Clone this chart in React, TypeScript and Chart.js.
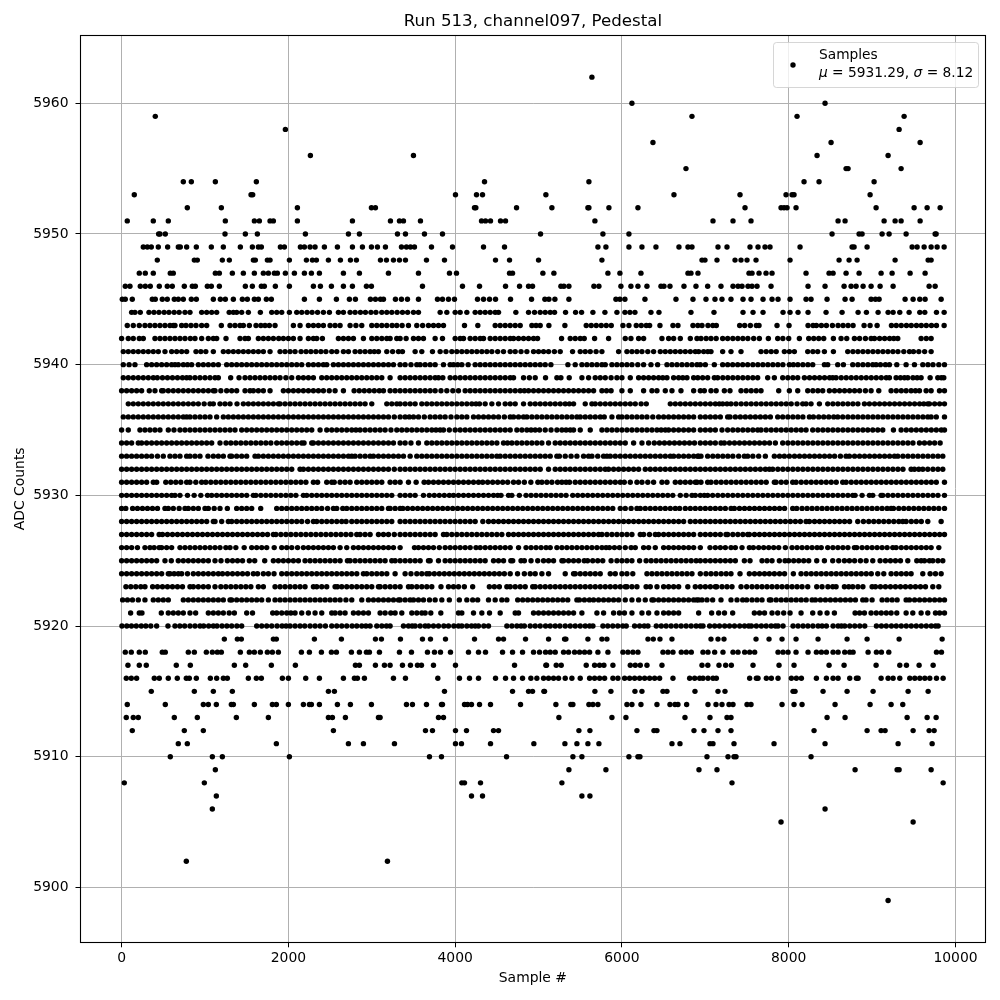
import React, { useEffect, useRef } from "react";
import { Chart, registerables } from "chart.js";

Chart.register(...registerables);

const xTicks = [0, 2000, 4000, 6000, 8000, 10000];
const yTicks = [5900, 5910, 5920, 5930, 5940, 5950, 5960];

const s5962 = [5640];
const s5960 = [6120, 8436];
const s5959 = [404, 6840, 8100, 9384];
const s5958 = [1964, 9324];
const s5957 = [6372, 8508, 9576];
const s5956 = [2264, 3500, 8340, 9192];
const s5955 = [6768, 8688, 8712, 9348];
const s5954 = [740, 836, 1124, 1616, 4352, 5604, 8184, 8364, 9024];
const s5953 = [152, 1552, 1572, 4004, 4256, 4328, 5088, 6624, 7416, 7968, 8040, 8064, 8976];
const s5952 = [788, 1196, 2108, 2996, 3044, 4232, 4248, 4736, 5160, 5592, 5604, 5844, 6192, 7476, 7908, 7944, 7980, 8088, 9048, 9504, 9660, 9816];
const s5951 = [68, 380, 560, 1244, 1592, 1652, 1780, 1820, 2108, 2768, 3224, 3332, 3380, 3584, 4316, 4364, 4424, 4544, 4604, 5676, 7092, 7332, 7548, 8592, 8676, 9144, 9276, 9348, 9576];
const s5950 = [444, 460, 524, 1240, 1484, 1628, 2204, 2720, 2852, 3308, 3404, 3632, 3848, 5024, 5772, 6084, 8520, 8844, 8880, 9120, 9204, 9408, 9756, 9768];
const s5949 = [260, 308, 356, 440, 552, 680, 704, 780, 896, 1076, 1220, 1424, 1568, 1640, 1676, 1904, 1952, 2144, 2192, 2260, 2320, 2432, 2588, 2768, 2888, 2996, 3068, 3164, 3356, 3416, 3464, 3512, 3716, 3968, 4340, 4592, 5712, 5808, 6084, 6240, 6408, 6684, 6792, 6840, 7152, 7260, 7536, 7632, 7716, 7776, 8136, 8760, 8784, 8940, 9480, 9540, 9624, 9708, 9780, 9864];
const s5948 = [428, 872, 908, 1208, 1292, 1580, 1604, 1748, 1780, 2012, 2216, 2288, 2336, 2480, 2624, 2744, 2816, 3104, 3176, 3260, 3332, 3404, 3656, 3872, 4484, 4652, 5000, 5760, 6960, 6996, 7140, 7356, 7428, 7500, 7608, 8016, 8604, 8724, 8820, 9276, 9672, 9708];
const s5947 = [212, 284, 380, 584, 620, 1124, 1172, 1328, 1460, 1592, 1700, 1760, 1832, 1868, 1964, 2072, 2192, 2276, 2372, 2660, 2852, 3200, 3560, 3932, 4016, 4652, 4688, 5052, 5184, 5832, 5976, 6228, 6792, 6828, 6912, 7524, 7560, 7644, 7728, 7800, 8208, 8484, 8532, 8688, 8844, 9108, 9240, 9456, 9636];
const s5946 = [44, 100, 224, 284, 344, 452, 548, 608, 752, 848, 884, 1028, 1076, 1172, 1484, 1568, 1676, 1712, 1844, 2012, 2300, 2384, 2516, 2660, 2768, 2936, 2996, 3608, 4088, 4292, 4604, 4772, 4880, 4928, 5268, 5304, 5364, 5664, 5724, 5988, 6108, 6192, 6300, 6468, 6504, 6576, 6744, 6888, 7028, 7188, 7332, 7392, 7440, 7512, 7560, 7620, 7788, 8232, 8436, 8664, 8748, 8808, 8892, 8988, 9096, 9252, 9684, 9756];
const s5945 = [8, 44, 128, 368, 404, 488, 548, 632, 680, 740, 836, 896, 1100, 1184, 1244, 1340, 1448, 1508, 1592, 1640, 1736, 1796, 2192, 2372, 2576, 2732, 2804, 2984, 3044, 3104, 3140, 3284, 3356, 3428, 3560, 3788, 3848, 3920, 3992, 4268, 4340, 4412, 4484, 4664, 4916, 5076, 5124, 5196, 5364, 5928, 5976, 6036, 6276, 6648, 6852, 7008, 7116, 7200, 7308, 7452, 7548, 7692, 7800, 7872, 8016, 8208, 8268, 8460, 8676, 8760, 8988, 9040, 9084, 9396, 9492, 9572, 9636, 9828];
const s5944 = [120, 160, 224, 328, 388, 448, 510, 568, 630, 690, 760, 820, 960, 1020, 1080, 1140, 1290, 1340, 1380, 1440, 1520, 1664, 1800, 1860, 1920, 2012, 2100, 2160, 2224, 2284, 2350, 2420, 2492, 2600, 2660, 2740, 2800, 2864, 2924, 2990, 3050, 3120, 3180, 3240, 3304, 3368, 3430, 3500, 3560, 3820, 3900, 4000, 4060, 4140, 4240, 4300, 4360, 4420, 4480, 4520, 4728, 4880, 4952, 5020, 5080, 5140, 5192, 5324, 5444, 5516, 5652, 5796, 5940, 6036, 6096, 6156, 6348, 6444, 6828, 7104, 7452, 7572, 7692, 7932, 8016, 8112, 8232, 8448, 8640, 8832, 8932, 9072, 9192, 9252, 9332, 9444, 9572, 9632, 9772, 9864];
const s5943 = [68, 140, 212, 280, 340, 400, 460, 520, 580, 620, 640, 720, 772, 832, 892, 960, 1020, 1196, 1300, 1360, 1420, 1460, 1532, 1612, 1670, 1720, 1772, 1840, 2060, 2140, 2240, 2300, 2360, 2420, 2500, 2560, 2620, 2740, 2810, 2880, 3000, 3060, 3120, 3180, 3244, 3300, 3364, 3440, 3540, 3610, 3680, 3740, 3800, 3860, 4112, 4272, 4480, 4540, 4600, 4660, 4720, 4780, 4920, 4970, 5020, 5124, 5316, 5572, 5632, 5692, 5752, 5812, 5872, 6012, 6084, 6172, 6232, 6292, 6332, 6456, 6612, 6672, 6852, 6910, 6960, 7032, 7090, 7132, 7412, 7472, 7540, 7612, 7644, 7860, 8004, 8232, 8292, 8332, 8392, 8452, 8524, 8592, 8652, 8712, 8772, 8904, 8976, 9060, 9232, 9290, 9350, 9412, 9470, 9532, 9590, 9650, 9712, 9772, 9864];
const s5942 = [0, 80, 140, 212, 260, 400, 460, 520, 580, 640, 700, 760, 824, 880, 960, 1040, 1100, 1140, 1252, 1420, 1480, 1520, 1640, 1700, 1760, 1820, 1884, 1940, 2000, 2060, 2140, 2240, 2300, 2340, 2408, 2600, 2660, 2720, 2780, 2900, 3000, 3060, 3120, 3180, 3220, 3300, 3340, 3412, 3500, 3560, 3620, 3760, 3848, 4000, 4060, 4100, 4180, 4240, 4300, 4340, 4420, 4480, 4540, 4600, 4660, 4700, 4760, 4820, 4880, 4940, 4988, 5276, 5380, 5440, 5500, 5548, 5672, 5840, 6040, 6108, 6200, 6260, 6480, 6560, 6620, 6700, 6820, 6900, 6948, 7010, 7068, 7130, 7208, 7268, 7330, 7390, 7450, 7510, 7580, 7648, 7756, 7868, 7930, 8000, 8128, 8240, 8300, 8360, 8420, 8536, 8628, 8696, 8788, 8850, 8920, 8988, 9028, 9090, 9150, 9210, 9260, 9308, 9588, 9650, 9708];
const s5941 = [20, 80, 140, 200, 260, 320, 380, 440, 520, 600, 660, 720, 780, 892, 950, 1010, 1100, 1220, 1280, 1340, 1400, 1460, 1520, 1580, 1640, 1700, 1780, 1900, 1960, 2020, 2080, 2152, 2212, 2270, 2330, 2390, 2450, 2520, 2580, 2660, 2720, 2800, 2860, 2920, 2980, 3030, 3080, 3180, 3250, 3320, 3368, 3520, 3600, 3728, 3820, 3890, 3960, 4020, 4080, 4140, 4200, 4260, 4320, 4380, 4440, 4510, 4580, 4660, 4720, 4790, 4860, 4940, 5000, 5060, 5120, 5190, 5260, 5408, 5500, 5560, 5620, 5690, 5760, 5960, 6060, 6120, 6180, 6240, 6310, 6380, 6460, 6520, 6580, 6640, 6700, 6760, 6820, 6880, 6920, 6980, 7030, 7068, 7208, 7308, 7428, 7668, 7730, 7790, 7850, 7948, 8008, 8068, 8228, 8290, 8348, 8428, 8536, 8708, 8770, 8830, 8890, 8950, 9010, 9070, 9130, 9190, 9250, 9310, 9380, 9448, 9496, 9560, 9630, 9708];
const s5940 = [20, 90, 160, 300, 360, 420, 480, 540, 600, 640, 680, 740, 790, 840, 920, 980, 1040, 1100, 1160, 1260, 1320, 1380, 1440, 1500, 1560, 1620, 1680, 1740, 1800, 1860, 1920, 1980, 2040, 2100, 2160, 2240, 2300, 2360, 2420, 2460, 2540, 2600, 2660, 2720, 2780, 2840, 2900, 2960, 3020, 3080, 3140, 3200, 3260, 3340, 3400, 3470, 3540, 3580, 3640, 3700, 3760, 3860, 3940, 3980, 4030, 4080, 4156, 4240, 4300, 4360, 4420, 4480, 4540, 4600, 4660, 4720, 4780, 4840, 4900, 4960, 5020, 5080, 5148, 5352, 5440, 5520, 5580, 5640, 5700, 5760, 5800, 5880, 5940, 6000, 6060, 6120, 6190, 6260, 6348, 6428, 6540, 6600, 6660, 6720, 6780, 6840, 6900, 6940, 7000, 7108, 7208, 7268, 7328, 7388, 7448, 7508, 7570, 7630, 7690, 7750, 7810, 7870, 7930, 8008, 8056, 8110, 8170, 8230, 8288, 8428, 8468, 8588, 8656, 8768, 8830, 8890, 8950, 9008, 9048, 9100, 9160, 9208, 9296, 9408, 9508, 9608, 9670, 9730, 9800, 9868];
const s5939 = [20, 80, 140, 200, 260, 320, 380, 428, 490, 550, 610, 670, 730, 780, 820, 880, 940, 1000, 1060, 1120, 1160, 1308, 1408, 1480, 1540, 1600, 1660, 1720, 1780, 1840, 1900, 1970, 2040, 2120, 2180, 2240, 2300, 2400, 2460, 2520, 2580, 2640, 2700, 2760, 2820, 2880, 2940, 3000, 3060, 3120, 3220, 3340, 3400, 3460, 3520, 3580, 3640, 3700, 3760, 3800, 3852, 3940, 4000, 4060, 4120, 4180, 4240, 4300, 4360, 4420, 4480, 4540, 4600, 4660, 4700, 4820, 4890, 4960, 5084, 5220, 5268, 5368, 5520, 5600, 5680, 5740, 5800, 5870, 5940, 6000, 6100, 6200, 6260, 6320, 6380, 6440, 6490, 6540, 6620, 6680, 6730, 6780, 6860, 6910, 6968, 7028, 7108, 7148, 7210, 7270, 7330, 7390, 7450, 7510, 7570, 7628, 7748, 7828, 7928, 7990, 8050, 8108, 8188, 8250, 8310, 8370, 8430, 8490, 8528, 8568, 8630, 8690, 8750, 8810, 8870, 8930, 8990, 9050, 9110, 9170, 9208, 9288, 9340, 9388, 9428, 9490, 9540, 9588, 9696, 9788, 9830, 9860];
const s5938 = [0, 60, 120, 180, 240, 332, 400, 480, 500, 560, 620, 680, 740, 800, 860, 920, 980, 1040, 1100, 1120, 1190, 1260, 1320, 1380, 1480, 1540, 1580, 1640, 1700, 1780, 1940, 2000, 2060, 2120, 2180, 2240, 2300, 2360, 2420, 2490, 2560, 2660, 2788, 2850, 2910, 2970, 3030, 3090, 3140, 3220, 3280, 3340, 3400, 3460, 3520, 3580, 3640, 3700, 3760, 3830, 3900, 3972, 4040, 4120, 4180, 4240, 4300, 4360, 4420, 4480, 4540, 4600, 4660, 4720, 4780, 4830, 4880, 4940, 5000, 5060, 5120, 5180, 5240, 5300, 5360, 5420, 5480, 5540, 5600, 5660, 5760, 5815, 5870, 6000, 6100, 6260, 6360, 6420, 6520, 6600, 6708, 6860, 6940, 6988, 7068, 7130, 7228, 7296, 7428, 7490, 7550, 7610, 7668, 7880, 8008, 8108, 8228, 8290, 8350, 8408, 8488, 8550, 8610, 8670, 8730, 8790, 8850, 8920, 8988, 9080, 9228, 9290, 9350, 9408, 9468, 9520, 9568, 9648, 9708, 9808, 9868];
const s5937 = [80, 140, 200, 260, 320, 380, 440, 500, 560, 620, 680, 740, 800, 860, 920, 990, 1060, 1100, 1180, 1240, 1300, 1384, 1460, 1520, 1580, 1640, 1700, 1760, 1820, 1880, 1900, 1960, 2020, 2080, 2140, 2200, 2260, 2320, 2380, 2440, 2500, 2560, 2620, 2680, 2740, 2800, 2860, 2920, 3000, 3180, 3240, 3300, 3340, 3400, 3460, 3520, 3600, 3660, 3720, 3780, 3840, 3900, 3960, 4020, 4080, 4140, 4200, 4250, 4292, 4360, 4440, 4520, 4600, 4660, 4720, 4820, 4900, 4960, 5020, 5080, 5140, 5200, 5260, 5320, 5370, 5420, 5560, 5640, 5680, 5740, 5800, 5860, 5920, 5980, 6040, 6100, 6160, 6230, 6292, 6580, 6640, 6700, 6760, 6820, 6880, 6940, 7000, 7060, 7120, 7168, 7208, 7260, 7308, 7368, 7430, 7490, 7550, 7610, 7670, 7730, 7790, 7850, 7910, 7970, 8030, 8100, 8168, 8208, 8268, 8368, 8468, 8530, 8590, 8650, 8710, 8770, 8830, 8908, 8968, 9030, 9090, 9150, 9210, 9270, 9330, 9390, 9450, 9510, 9570, 9620, 9668, 9688, 9750, 9810, 9868];
const s5936 = [20, 80, 140, 200, 260, 320, 380, 440, 500, 560, 620, 680, 740, 780, 820, 880, 940, 1000, 1060, 1140, 1220, 1280, 1340, 1400, 1460, 1520, 1580, 1640, 1700, 1760, 1820, 1880, 1940, 2000, 2060, 2120, 2180, 2240, 2300, 2360, 2420, 2480, 2540, 2600, 2660, 2720, 2780, 2840, 2900, 2960, 3020, 3080, 3140, 3200, 3270, 3340, 3400, 3450, 3500, 3560, 3630, 3700, 3760, 3820, 3880, 3950, 4020, 4080, 4140, 4220, 4280, 4340, 4400, 4460, 4520, 4590, 4660, 4700, 4760, 4820, 4860, 4920, 4980, 5040, 5100, 5160, 5220, 5280, 5340, 5400, 5460, 5500, 5560, 5620, 5680, 5740, 5788, 5880, 5960, 6000, 6060, 6120, 6180, 6240, 6300, 6370, 6440, 6500, 6560, 6620, 6680, 6740, 6800, 6860, 6940, 7000, 7060, 7120, 7180, 7268, 7296, 7360, 7420, 7480, 7540, 7600, 7660, 7720, 7780, 7868, 7928, 7990, 8050, 8110, 8170, 8248, 8296, 8360, 8420, 8480, 8540, 8588, 8648, 8710, 8770, 8830, 8890, 8950, 9010, 9070, 9130, 9190, 9250, 9310, 9370, 9430, 9490, 9550, 9610, 9668, 9708, 9770, 9868];
const s5935 = [0, 80, 220, 280, 340, 400, 460, 560, 628, 700, 760, 820, 880, 940, 1000, 1060, 1120, 1180, 1240, 1300, 1360, 1440, 1500, 1560, 1620, 1680, 1740, 1800, 1860, 1920, 1980, 2040, 2100, 2160, 2220, 2280, 2380, 2460, 2520, 2580, 2640, 2700, 2760, 2810, 2860, 2920, 2980, 3040, 3100, 3160, 3230, 3300, 3360, 3420, 3480, 3540, 3600, 3660, 3720, 3770, 3820, 3860, 3930, 4000, 4060, 4120, 4180, 4240, 4300, 4360, 4420, 4480, 4540, 4600, 4660, 4740, 4800, 4860, 4910, 4960, 5012, 5080, 5150, 5220, 5280, 5330, 5380, 5420, 5500, 5620, 5760, 5820, 5880, 5940, 6000, 6060, 6120, 6180, 6240, 6300, 6360, 6420, 6470, 6520, 6560, 6620, 6680, 6740, 6800, 6860, 6940, 7000, 7060, 7120, 7200, 7268, 7330, 7390, 7450, 7510, 7570, 7628, 7668, 7730, 7790, 7850, 7910, 7970, 8030, 8090, 8150, 8208, 8288, 8350, 8410, 8470, 8530, 8590, 8650, 8710, 8770, 8830, 8890, 8948, 9008, 9068, 9128, 9256, 9348, 9410, 9470, 9530, 9590, 9650, 9710, 9770, 9830, 9868];
const s5934 = [0, 60, 120, 200, 240, 300, 360, 420, 480, 540, 600, 660, 720, 780, 840, 900, 960, 1020, 1080, 1180, 1252, 1310, 1370, 1430, 1490, 1550, 1610, 1670, 1730, 1790, 1860, 1920, 1980, 2040, 2100, 2160, 2188, 2280, 2300, 2360, 2420, 2480, 2540, 2600, 2660, 2720, 2780, 2840, 2900, 2960, 3020, 3080, 3140, 3200, 3260, 3340, 3400, 3470, 3560, 3660, 3720, 3780, 3840, 3900, 3960, 4020, 4080, 4140, 4200, 4260, 4320, 4380, 4440, 4500, 4580, 4628, 4680, 4740, 4800, 4860, 4920, 4980, 5040, 5120, 5200, 5260, 5320, 5380, 5440, 5500, 5560, 5620, 5680, 5740, 5800, 5860, 5920, 5980, 6040, 6140, 6240, 6320, 6388, 6450, 6510, 6570, 6630, 6690, 6750, 6810, 6870, 6940, 7000, 7060, 7120, 7188, 7228, 7290, 7350, 7410, 7470, 7530, 7590, 7650, 7710, 7770, 7840, 7928, 7990, 8050, 8110, 8170, 8230, 8290, 8350, 8410, 8470, 8530, 8590, 8650, 8710, 8770, 8830, 8890, 8950, 9010, 9070, 9130, 9190, 9250, 9310, 9370, 9430, 9490, 9568, 9628, 9690, 9750, 9816];
const s5933 = [0, 60, 120, 180, 240, 300, 360, 430, 500, 580, 640, 700, 780, 820, 880, 940, 1036, 1100, 1160, 1220, 1300, 1320, 1380, 1440, 1500, 1600, 1640, 1700, 1760, 1820, 1880, 1940, 2000, 2060, 2120, 2180, 2240, 2300, 2360, 2420, 2480, 2540, 2600, 2660, 2720, 2760, 2800, 2860, 2920, 2980, 3020, 3080, 3140, 3200, 3260, 3320, 3380, 3460, 3540, 3600, 3660, 3720, 3780, 3840, 3900, 3960, 4020, 4080, 4140, 4200, 4260, 4320, 4380, 4440, 4500, 4540, 4600, 4660, 4720, 4780, 4840, 4900, 4960, 5020, 5080, 5140, 5220, 5250, 5320, 5390, 5460, 5540, 5600, 5640, 5710, 5780, 5820, 5860, 5920, 5980, 6040, 6100, 6160, 6220, 6280, 6340, 6400, 6460, 6520, 6580, 6620, 6680, 6740, 6800, 6860, 6920, 6908, 6948, 7028, 7090, 7150, 7210, 7270, 7330, 7400, 7468, 7508, 7570, 7640, 7720, 7828, 7890, 7948, 8008, 8070, 8130, 8190, 8250, 8310, 8370, 8430, 8490, 8550, 8620, 8688, 8728, 8790, 8850, 8910, 8970, 9030, 9090, 9150, 9210, 9268, 9308, 9370, 9430, 9490, 9550, 9610, 9670, 9730, 9790, 9848];
const s5932 = [0, 60, 120, 180, 240, 300, 360, 420, 480, 540, 600, 660, 720, 780, 840, 900, 960, 1020, 1080, 1140, 1200, 1260, 1320, 1380, 1440, 1500, 1560, 1620, 1680, 1740, 1800, 1860, 1920, 1980, 2040, 2140, 2180, 2240, 2300, 2360, 2420, 2480, 2540, 2600, 2660, 2720, 2780, 2840, 2900, 2960, 3020, 3080, 3140, 3200, 3270, 3340, 3400, 3460, 3520, 3580, 3640, 3700, 3760, 3820, 3880, 3940, 4000, 4060, 4120, 4180, 4240, 4300, 4360, 4420, 4480, 4540, 4600, 4660, 4720, 4780, 4840, 4900, 4960, 5020, 5120, 5200, 5260, 5320, 5380, 5440, 5500, 5560, 5620, 5680, 5740, 5800, 5840, 5900, 5960, 6020, 6080, 6140, 6200, 6280, 6340, 6400, 6460, 6520, 6580, 6640, 6700, 6760, 6820, 6880, 6940, 7000, 7060, 7120, 7180, 7240, 7300, 7360, 7420, 7480, 7540, 7600, 7660, 7720, 7768, 7808, 7870, 7930, 7990, 8050, 8110, 8170, 8230, 8290, 8350, 8410, 8470, 8530, 8590, 8650, 8710, 8770, 8830, 8890, 8950, 9010, 9070, 9130, 9190, 9250, 9310, 9370, 9468, 9508, 9560, 9608, 9668, 9730, 9790, 9848];
const s5931 = [0, 60, 120, 180, 240, 300, 380, 420, 530, 590, 650, 710, 780, 820, 890, 960, 1010, 1070, 1130, 1190, 1250, 1310, 1370, 1430, 1490, 1550, 1610, 1670, 1730, 1790, 1850, 1910, 1970, 2030, 2090, 2150, 2210, 2300, 2350, 2460, 2520, 2550, 2620, 2680, 2740, 2820, 2880, 2940, 3000, 3060, 3120, 3220, 3280, 3340, 3440, 3532, 3628, 3680, 3740, 3800, 3860, 3920, 3980, 4040, 4100, 4160, 4220, 4280, 4330, 4390, 4450, 4510, 4570, 4630, 4700, 4760, 4830, 4908, 4992, 5040, 5100, 5160, 5228, 5280, 5330, 5372, 5440, 5500, 5560, 5620, 5680, 5740, 5800, 5860, 5920, 5980, 6028, 6100, 6180, 6240, 6310, 6380, 6480, 6540, 6640, 6700, 6760, 6820, 6900, 6880, 6948, 7028, 7068, 7130, 7190, 7250, 7310, 7370, 7430, 7490, 7550, 7610, 7670, 7730, 7828, 7848, 7910, 7970, 8048, 8088, 8150, 8210, 8270, 8330, 8390, 8450, 8510, 8570, 8648, 8688, 8750, 8810, 8870, 8930, 8990, 9050, 9110, 9170, 9230, 9290, 9350, 9410, 9470, 9530, 9590, 9650, 9710, 9770, 9868];
const s5930 = [0, 60, 120, 180, 240, 300, 360, 420, 480, 540, 600, 640, 700, 790, 870, 950, 1030, 1080, 1140, 1200, 1260, 1320, 1380, 1440, 1500, 1580, 1610, 1670, 1730, 1790, 1850, 1910, 1970, 2030, 2090, 2180, 2220, 2280, 2340, 2400, 2460, 2520, 2580, 2640, 2700, 2760, 2820, 2880, 2940, 3000, 3060, 3120, 3180, 3240, 3340, 3400, 3460, 3520, 3620, 3690, 3750, 3810, 3870, 3930, 3980, 4040, 4100, 4160, 4220, 4280, 4340, 4400, 4460, 4510, 4550, 4640, 4680, 4770, 4850, 4910, 4970, 5030, 5090, 5150, 5210, 5270, 5330, 5410, 5470, 5530, 5590, 5650, 5710, 5770, 5830, 5890, 5950, 6010, 6070, 6130, 6190, 6250, 6310, 6370, 6430, 6490, 6550, 6610, 6700, 6770, 6840, 6880, 6940, 6988, 7028, 7088, 7150, 7210, 7270, 7330, 7390, 7450, 7510, 7570, 7630, 7690, 7750, 7810, 7870, 7930, 7990, 8050, 8110, 8170, 8230, 8290, 8350, 8410, 8470, 8530, 8590, 8650, 8710, 8768, 8796, 8880, 8968, 9008, 9108, 9128, 9190, 9250, 9310, 9370, 9430, 9490, 9550, 9610, 9670, 9730, 9790, 9868];
const s5929 = [0, 50, 132, 190, 250, 310, 370, 430, 520, 560, 620, 690, 760, 800, 860, 920, 1000, 1040, 1110, 1180, 1268, 1380, 1440, 1500, 1560, 1668, 1860, 1920, 1980, 2040, 2100, 2160, 2220, 2280, 2340, 2400, 2470, 2540, 2580, 2652, 2700, 2760, 2820, 2880, 2940, 3000, 3060, 3120, 3200, 3220, 3280, 3340, 3372, 3430, 3490, 3550, 3610, 3670, 3730, 3790, 3850, 3910, 3970, 4030, 4090, 4150, 4210, 4270, 4330, 4390, 4450, 4510, 4570, 4630, 4690, 4750, 4810, 4870, 4930, 4990, 5050, 5110, 5170, 5230, 5290, 5350, 5410, 5470, 5530, 5590, 5650, 5710, 5770, 5830, 5890, 5980, 6040, 6110, 6180, 6220, 6280, 6340, 6400, 6460, 6520, 6580, 6640, 6692, 6760, 6820, 6880, 6940, 7000, 7060, 7120, 7180, 7240, 7308, 7348, 7410, 7470, 7530, 7590, 7650, 7710, 7770, 7830, 7890, 7950, 8048, 8096, 8160, 8220, 8280, 8340, 8400, 8460, 8520, 8580, 8640, 8700, 8760, 8820, 8880, 8940, 9000, 9060, 9120, 9180, 9228, 9256, 9320, 9380, 9440, 9500, 9560, 9620, 9680, 9740, 9800, 9868];
const s5928 = [0, 60, 120, 180, 240, 300, 360, 420, 480, 540, 600, 660, 720, 780, 840, 900, 960, 1020, 1100, 1120, 1200, 1280, 1320, 1380, 1440, 1500, 1560, 1620, 1680, 1740, 1800, 1860, 1920, 1980, 2040, 2100, 2160, 2230, 2300, 2340, 2400, 2460, 2520, 2580, 2640, 2692, 2760, 2820, 2880, 2940, 3000, 3060, 3120, 3180, 3240, 3340, 3400, 3460, 3520, 3580, 3640, 3700, 3760, 3820, 3880, 3940, 4000, 4060, 4120, 4180, 4240, 4332, 4400, 4460, 4520, 4580, 4640, 4700, 4760, 4820, 4880, 4940, 5000, 5060, 5120, 5180, 5240, 5300, 5360, 5420, 5480, 5540, 5600, 5660, 5720, 5780, 5840, 5900, 5960, 6020, 6080, 6140, 6200, 6260, 6320, 6380, 6440, 6500, 6560, 6620, 6680, 6740, 6820, 6880, 6940, 7000, 7060, 7120, 7180, 7240, 7300, 7360, 7420, 7480, 7540, 7600, 7660, 7720, 7780, 7840, 7900, 7960, 8020, 8080, 8140, 8208, 8248, 8310, 8370, 8430, 8490, 8550, 8610, 8670, 8730, 8828, 8896, 8960, 9020, 9080, 9140, 9200, 9260, 9320, 9368, 9408, 9470, 9530, 9590, 9668, 9828];
const s5927 = [0, 60, 120, 180, 240, 300, 360, 450, 490, 550, 610, 670, 730, 790, 850, 910, 970, 1030, 1090, 1150, 1210, 1270, 1330, 1390, 1450, 1510, 1570, 1630, 1690, 1750, 1820, 1850, 1910, 1970, 2030, 2090, 2150, 2210, 2270, 2330, 2390, 2450, 2510, 2570, 2630, 2690, 2750, 2820, 2860, 2920, 2980, 3080, 3140, 3200, 3270, 3340, 3400, 3460, 3520, 3580, 3640, 3700, 3760, 3860, 3900, 3960, 4020, 4080, 4140, 4200, 4260, 4320, 4380, 4440, 4500, 4560, 4640, 4700, 4760, 4820, 4880, 4940, 5000, 5060, 5120, 5180, 5240, 5300, 5360, 5420, 5480, 5540, 5600, 5660, 5720, 5760, 5820, 5880, 5940, 6000, 6060, 6120, 6220, 6260, 6330, 6400, 6440, 6500, 6560, 6620, 6680, 6740, 6800, 6860, 6940, 7000, 7060, 7120, 7180, 7248, 7268, 7330, 7390, 7450, 7508, 7528, 7590, 7650, 7710, 7770, 7830, 7890, 7950, 8010, 8070, 8130, 8190, 8250, 8310, 8370, 8430, 8490, 8550, 8610, 8670, 8730, 8790, 8850, 8910, 8970, 9030, 9090, 9150, 9210, 9270, 9330, 9390, 9450, 9510, 9570, 9630, 9690, 9750, 9810, 9868];
const s5926 = [0, 60, 120, 190, 280, 340, 390, 450, 480, 540, 600, 700, 760, 820, 880, 940, 1000, 1060, 1120, 1180, 1250, 1300, 1370, 1470, 1560, 1620, 1680, 1740, 1830, 1920, 1980, 2040, 2110, 2180, 2240, 2300, 2360, 2420, 2480, 2540, 2620, 2700, 2780, 2840, 2900, 2960, 3020, 3080, 3140, 3200, 3260, 3340, 3512, 3560, 3620, 3680, 3740, 3810, 3880, 3940, 4000, 4060, 4120, 4180, 4250, 4300, 4360, 4420, 4480, 4540, 4600, 4660, 4760, 4850, 4910, 4970, 5030, 5090, 5140, 5220, 5280, 5340, 5400, 5460, 5520, 5580, 5640, 5700, 5760, 5810, 5850, 5910, 5970, 6040, 6110, 6160, 6260, 6320, 6400, 6500, 6560, 6620, 6680, 6740, 6800, 6860, 6940, 7056, 7120, 7180, 7240, 7308, 7360, 7440, 7528, 7576, 7640, 7700, 7760, 7820, 7880, 7960, 8040, 8100, 8160, 8220, 8280, 8340, 8390, 8468, 8530, 8590, 8650, 8710, 8788, 8816, 8880, 8940, 9000, 9060, 9120, 9180, 9248, 9288, 9350, 9410, 9470, 9530, 9590, 9650, 9708, 9800];
const s5925 = [0, 60, 120, 180, 240, 300, 360, 420, 520, 596, 680, 740, 800, 860, 920, 980, 1040, 1120, 1192, 1268, 1330, 1390, 1450, 1532, 1596, 1716, 1820, 1880, 1940, 2000, 2060, 2120, 2200, 2260, 2320, 2380, 2440, 2500, 2560, 2620, 2708, 2740, 2800, 2860, 2920, 2980, 3040, 3100, 3160, 3240, 3280, 3340, 3400, 3460, 3520, 3580, 3680, 3700, 3800, 3880, 3940, 4000, 4060, 4120, 4180, 4240, 4300, 4360, 4460, 4520, 4580, 4668, 4690, 4790, 4830, 4910, 4990, 5060, 5120, 5180, 5280, 5300, 5360, 5420, 5480, 5548, 5588, 5650, 5710, 5770, 5870, 5940, 6000, 6060, 6120, 6212, 6290, 6350, 6410, 6470, 6530, 6590, 6650, 6710, 6770, 6830, 6890, 6940, 7000, 7060, 7120, 7180, 7240, 7300, 7360, 7468, 7536, 7680, 7740, 7800, 7888, 7956, 8000, 8060, 8120, 8180, 8240, 8336, 8428, 8528, 8600, 8668, 8728, 8790, 8860, 8928, 9008, 9096, 9160, 9220, 9280, 9340, 9428, 9536, 9588, 9628, 9688, 9728, 9790, 9848];
const s5924 = [0, 60, 120, 180, 240, 300, 360, 420, 480, 560, 580, 630, 680, 720, 790, 860, 920, 980, 1040, 1100, 1160, 1210, 1270, 1330, 1390, 1450, 1510, 1580, 1630, 1700, 1760, 1828, 1920, 1980, 2040, 2100, 2160, 2220, 2280, 2340, 2400, 2460, 2520, 2580, 2640, 2700, 2760, 2820, 2900, 2940, 3000, 3060, 3120, 3180, 3280, 3400, 3470, 3540, 3600, 3660, 3690, 3750, 3810, 3870, 3930, 3990, 4050, 4110, 4170, 4230, 4290, 4350, 4410, 4470, 4530, 4590, 4660, 4748, 4830, 4900, 4960, 5040, 5120, 5320, 5420, 5440, 5500, 5560, 5620, 5680, 5740, 5860, 5920, 6000, 6060, 6130, 6300, 6360, 6420, 6480, 6540, 6600, 6660, 6720, 6780, 6840, 6940, 7008, 7068, 7128, 7190, 7250, 7308, 7416, 7528, 7590, 7650, 7710, 7768, 7828, 7890, 7950, 8056, 8148, 8210, 8270, 8330, 8390, 8450, 8510, 8570, 8630, 8690, 8750, 8810, 8870, 8930, 8990, 9068, 9140, 9228, 9290, 9350, 9410, 9468, 9608, 9696, 9760, 9828];
const s5923 = [52, 110, 170, 230, 280, 372, 430, 490, 550, 610, 670, 730, 820, 860, 920, 980, 1040, 1120, 1190, 1250, 1310, 1370, 1430, 1490, 1550, 1640, 1700, 1840, 1900, 1960, 2020, 2080, 2140, 2200, 2300, 2340, 2400, 2460, 2560, 2588, 2640, 2700, 2760, 2820, 2880, 2940, 3000, 3080, 3100, 3160, 3220, 3280, 3340, 3440, 3480, 3540, 3600, 3660, 3720, 3830, 3920, 3980, 4040, 4110, 4210, 4410, 4470, 4530, 4620, 4660, 4720, 4780, 4840, 4930, 4960, 5020, 5080, 5140, 5200, 5260, 5320, 5380, 5440, 5500, 5560, 5620, 5680, 5740, 5800, 5860, 5920, 5980, 6040, 6060, 6120, 6180, 6290, 6340, 6420, 6500, 6560, 6620, 6680, 6790, 6880, 6940, 7000, 7060, 7120, 7136, 7200, 7260, 7320, 7428, 7496, 7560, 7620, 7680, 7740, 7800, 7860, 7920, 7980, 8040, 8100, 8160, 8228, 8336, 8400, 8470, 8528, 8568, 8668, 8720, 8768, 8830, 8890, 9000, 9040, 9100, 9160, 9220, 9280, 9340, 9400, 9460, 9520, 9580, 9640, 9728, 9800];
const s5922 = [12, 70, 130, 200, 280, 380, 440, 500, 560, 740, 800, 860, 920, 980, 1040, 1100, 1160, 1220, 1300, 1320, 1380, 1440, 1500, 1560, 1620, 1680, 1760, 1840, 1900, 1960, 2020, 2080, 2140, 2200, 2260, 2320, 2380, 2440, 2500, 2560, 2620, 2690, 2760, 2880, 2960, 3020, 3080, 3140, 3200, 3260, 3320, 3340, 3400, 3460, 3500, 3560, 3620, 3692, 3760, 3840, 3930, 4050, 4140, 4210, 4270, 4400, 4480, 4560, 4620, 4750, 4810, 4870, 4930, 4990, 5050, 5110, 5170, 5230, 5290, 5350, 5460, 5490, 5550, 5610, 5660, 5720, 5780, 5840, 5900, 5960, 6040, 6120, 6200, 6280, 6360, 6380, 6440, 6500, 6560, 6620, 6680, 6740, 6800, 6860, 6920, 6896, 6960, 7020, 7088, 7188, 7308, 7380, 7448, 7496, 7560, 7620, 7680, 7768, 7788, 7850, 7910, 7970, 8030, 8090, 8150, 8210, 8280, 8320, 8380, 8440, 8500, 8560, 8620, 8680, 8740, 8800, 8888, 8928, 9000, 9120, 9180, 9240, 9300, 9408, 9448, 9510, 9570, 9630, 9690, 9750, 9810, 9868];
const s5921 = [108, 212, 244, 476, 560, 620, 680, 740, 820, 888, 1040, 1100, 1160, 1220, 1290, 1352, 1500, 1570, 1812, 1860, 1920, 1980, 2030, 2080, 2160, 2240, 2320, 2400, 2520, 2560, 2620, 2680, 2780, 2840, 2900, 2960, 3100, 3160, 3228, 3280, 3360, 3480, 3540, 3600, 3640, 3708, 3828, 4040, 4080, 4220, 4320, 4412, 4540, 4720, 4760, 4940, 5000, 5060, 5120, 5180, 5240, 5300, 5360, 5420, 5520, 5700, 5780, 5900, 5970, 6030, 6120, 6240, 6320, 6420, 6500, 6560, 6620, 6680, 6920, 7076, 7160, 7230, 7328, 7588, 7650, 7710, 7800, 7868, 7940, 8016, 8148, 8288, 8376, 8460, 8548, 8796, 8850, 8908, 8988, 9050, 9110, 9170, 9228, 9296, 9408, 9488, 9588, 9668, 9760, 9810, 9868];
const s5920 = [4, 62, 118, 176, 236, 290, 350, 420, 556, 640, 698, 756, 820, 880, 940, 984, 1044, 1100, 1144, 1204, 1262, 1320, 1382, 1440, 1620, 1680, 1740, 1800, 1864, 1924, 1972, 2020, 2080, 2140, 2196, 2260, 2320, 2380, 2444, 2520, 2580, 2640, 2700, 2764, 2820, 2880, 2930, 2980, 3060, 3120, 3176, 3220, 3380, 3440, 3484, 3520, 3580, 3640, 3680, 3740, 3800, 3864, 3920, 3984, 4040, 4080, 4140, 4196, 4240, 4280, 4344, 4400, 4620, 4680, 4740, 4790, 4830, 4900, 4960, 5020, 5084, 5140, 5200, 5256, 5320, 5380, 5440, 5500, 5560, 5612, 5652, 5772, 5830, 5890, 5950, 6010, 6052, 6152, 6212, 6268, 6312, 6412, 6472, 6530, 6590, 6650, 6710, 6770, 6830, 6890, 6940, 6972, 7052, 7112, 7170, 7232, 7290, 7350, 7412, 7470, 7520, 7552, 7612, 7672, 7730, 7790, 7840, 7872, 7932, 8052, 8112, 8172, 8230, 8290, 8352, 8400, 8452, 8532, 8592, 8632, 8672, 8732, 8792, 8852, 8912, 9052, 9112, 9170, 9232, 9290, 9350, 9410, 9470, 9530, 9590, 9650, 9710, 9760, 9792];
const s5919 = [1232, 1388, 1436, 1820, 1856, 2312, 2636, 3044, 3116, 3344, 3608, 3704, 3884, 4232, 4520, 4580, 4844, 5120, 5328, 5312, 5592, 5760, 5820, 6312, 6376, 6456, 6600, 7068, 7152, 7224, 7608, 7764, 7920, 8088, 8352, 8700, 8940, 9324, 9840];
const s5918 = [44, 116, 212, 284, 488, 524, 800, 872, 1016, 1088, 1148, 1196, 1424, 1532, 1592, 1664, 1748, 1808, 1880, 2156, 2252, 2396, 2516, 2576, 2756, 2852, 2936, 2972, 3092, 3332, 3476, 3668, 3752, 3824, 3944, 4160, 4280, 4364, 4568, 4688, 4808, 4940, 5012, 5084, 5140, 5200, 5300, 5360, 5432, 5492, 5552, 5612, 5712, 5832, 6012, 6072, 6132, 6192, 6492, 6552, 6612, 6712, 6772, 6832, 6972, 7032, 7112, 7212, 7332, 7392, 7472, 7532, 7592, 7872, 7932, 7992, 8088, 8232, 8332, 8392, 8452, 8532, 8592, 8672, 8732, 8772, 8952, 9052, 9112, 9200, 9772, 9832];
const s5917 = [76, 212, 296, 656, 824, 1352, 1488, 1796, 2084, 2804, 2852, 3044, 3152, 3220, 3368, 3464, 3548, 3596, 3740, 4004, 4712, 5096, 5088, 5212, 5272, 5572, 5672, 5732, 5784, 5892, 6100, 6160, 6220, 6300, 6480, 6960, 7030, 7164, 7244, 7312, 7572, 7884, 8064, 8484, 8664, 9048, 9332, 9412, 9564, 9732];
const s5916 = [56, 116, 180, 392, 452, 560, 668, 776, 812, 896, 1064, 1140, 1220, 1268, 1520, 1616, 1676, 1928, 2000, 2208, 2372, 2660, 2792, 2828, 2912, 3260, 3404, 3792, 4052, 4172, 4280, 4484, 4604, 4700, 4808, 4908, 4980, 5060, 5120, 5180, 5240, 5320, 5400, 5500, 5612, 5672, 5732, 5792, 5892, 5952, 6032, 6092, 6152, 6212, 6272, 6332, 6392, 6452, 6612, 6812, 6872, 6932, 6972, 7032, 7092, 7132, 7532, 7612, 7632, 7732, 7792, 7872, 8032, 8092, 8152, 8332, 8452, 8532, 8592, 8732, 8812, 8832, 9108, 9192, 9252, 9332, 9452, 9512, 9572, 9632, 9692, 9772, 9852];
const s5915 = [356, 872, 1100, 1328, 2480, 2552, 3872, 4688, 4880, 4928, 5072, 5064, 5676, 5868, 6156, 6240, 6492, 6540, 6876, 7152, 7236, 8052, 8076, 8412, 8700, 9012, 9432, 9672];
const s5914 = [68, 524, 980, 1040, 1136, 1316, 1340, 1592, 1808, 1856, 2000, 2180, 2252, 2276, 2372, 2588, 2744, 2996, 3416, 3488, 3656, 3836, 3848, 4112, 4148, 4196, 4292, 4424, 4784, 5208, 5388, 5412, 5604, 5652, 5712, 6060, 6120, 6228, 6420, 6576, 6636, 6672, 6776, 7032, 7128, 7200, 7284, 7332, 7500, 7548, 7920, 8064, 8160, 8556, 8976, 9228, 9368];
const s5913 = [56, 140, 200, 632, 908, 1376, 1760, 2480, 2528, 2684, 3080, 3100, 3800, 3860, 5244, 5880, 6048, 6756, 7056, 7260, 7308, 8460, 8676, 9420, 9660, 9768];
const s5912 = [128, 752, 980, 2540, 3644, 3728, 4004, 4136, 4460, 4520, 5484, 5616, 6180, 6384, 6420, 6864, 6984, 7152, 7308, 8304, 8940, 9108, 9156, 9492, 9684, 9744];
const s5911 = [680, 788, 1856, 2720, 2900, 3272, 4004, 4076, 4424, 4944, 5316, 5460, 5592, 5724, 6600, 6696, 7056, 7092, 7344, 7824, 8436, 9312, 9720];
const s5910 = [584, 1088, 1208, 2012, 3692, 3836, 4616, 5412, 5520, 6084, 6192, 6216, 7020, 7272, 7344, 7368, 8268];
const s5909 = [1124, 5364, 5808, 6924, 7140, 8796, 9300, 9324, 9708];
const s5908 = [32, 992, 4080, 4112, 4304, 5280, 7320, 9852];
const s5907 = [1136, 4196, 4328, 5520, 5616];
const s5906 = [1088, 8436];
const s5905 = [7908, 9492];
const s5902 = [776, 3188];
const s5899 = [9192];

const levels: [number, number[]][] = [
  [5962, s5962], [5960, s5960], [5959, s5959], [5958, s5958], [5957, s5957], [5956, s5956], [5955, s5955],
  [5954, s5954], [5953, s5953], [5952, s5952], [5951, s5951], [5950, s5950], [5949, s5949], [5948, s5948],
  [5947, s5947], [5946, s5946], [5945, s5945], [5944, s5944], [5943, s5943], [5942, s5942], [5941, s5941],
  [5940, s5940], [5939, s5939], [5938, s5938], [5937, s5937], [5936, s5936], [5935, s5935], [5934, s5934],
  [5933, s5933], [5932, s5932], [5931, s5931], [5930, s5930], [5929, s5929], [5928, s5928], [5927, s5927],
  [5926, s5926], [5925, s5925], [5924, s5924], [5923, s5923], [5922, s5922], [5921, s5921], [5920, s5920],
  [5919, s5919], [5918, s5918], [5917, s5917], [5916, s5916], [5915, s5915], [5914, s5914], [5913, s5913],
  [5912, s5912], [5911, s5911], [5910, s5910], [5909, s5909], [5908, s5908], [5907, s5907], [5906, s5906],
  [5905, s5905], [5902, s5902], [5899, s5899],
];

const FONT = '"DejaVu Sans"';
const FS = 13.9;

const legendBox = {
  id: "legendBox",
  afterDatasetsDraw(chart: Chart) {
    const { ctx } = chart;
    const a = chart.chartArea;
    ctx.save();
    ctx.strokeStyle = "#000";
    ctx.lineWidth = 1.1;
    const l = Math.floor(a.left) + 0.5;
    const t = Math.floor(a.top) + 0.5;
    const r = Math.floor(a.right) + 0.5;
    const b = Math.floor(a.bottom) + 0.5;
    ctx.strokeRect(l, t, r - l, b - t);
    ctx.lineWidth = 1;
    ctx.beginPath();
    ctx.roundRect(773.5, 42.5, 205, 45, 3);
    ctx.fillStyle = "rgba(255,255,255,0.8)";
    ctx.fill();
    ctx.strokeStyle = "rgba(204,204,204,0.8)";
    ctx.stroke();
    ctx.beginPath();
    ctx.arc(793, 65, 2.7, 0, Math.PI * 2);
    ctx.fillStyle = "#000";
    ctx.fill();
    ctx.textBaseline = "alphabetic";
    ctx.textAlign = "left";
    ctx.font = `13.75px ${FONT}`;
    ctx.fillText("Samples", 819, 59);
    let x = 819;
    const parts: [string, boolean][] = [["μ", true], [" = 5931.29, ", false], ["σ", true], [" = 8.12", false]];
    for (const [txt, it] of parts) {
      ctx.font = `${it ? "italic " : ""}13.75px ${FONT}`;
      ctx.fillText(txt, x, 76.5);
      x += ctx.measureText(txt).width;
    }
    ctx.restore();
  },
};

export default function App() {
  const ref = useRef<HTMLCanvasElement>(null);
  useEffect(() => {
    const data = levels.flatMap(([y, xs]) => xs.map((x) => ({ x, y })));
    const chart = new Chart(ref.current!, {
      type: "scatter",
      data: {
        datasets: [
          {
            label: "Samples",
            data,
            pointRadius: 2.7,
            pointBorderWidth: 0,
            backgroundColor: "#000",
            borderColor: "#000",
            showLine: false,
          },
        ],
      },
      plugins: [legendBox],
      options: {
        animation: false,
        responsive: false,
        devicePixelRatio: 1,
        layout: { padding: { left: 0, right: 14.75, top: 0, bottom: 0 } },
        plugins: {
          legend: { display: false },
          tooltip: { enabled: false },
          title: {
            display: true,
            fullSize: false,
            text: "Run 513, channel097, Pedestal",
            color: "#000",
            font: { family: FONT, size: 16.67, weight: "normal" },
            padding: { top: 12, bottom: 3.3 },
          },
        },
        scales: {
          x: {
            type: "linear",
            min: -493,
            max: 10357,
            afterFit: (s: any) => { s.height = 57.7; },
            afterBuildTicks: (s: any) => { s.ticks = xTicks.map((value) => ({ value })); },
            grid: { color: "#b0b0b0", lineWidth: 1, tickColor: "#000", tickLength: 5 },
            border: { display: false },
            ticks: { color: "#000", font: { family: FONT, size: FS }, maxRotation: 0, padding: 3, callback: (v: any) => String(v) },
            title: { display: true, text: "Sample #", color: "#000", font: { family: FONT, size: FS }, padding: { top: 4, bottom: 13.7 } },
          },
          y: {
            type: "linear",
            min: 5895.8,
            max: 5965.2,
            afterFit: (s: any) => { s.width = 80.5; },
            afterBuildTicks: (s: any) => { s.ticks = yTicks.map((value) => ({ value })); },
            grid: { color: "#b0b0b0", lineWidth: 1, tickColor: "#000", tickLength: 5 },
            border: { display: false },
            ticks: { color: "#000", font: { family: FONT, size: FS }, padding: 7, callback: (v: any) => String(v) },
            title: { display: true, text: "ADC Counts", color: "#000", font: { family: FONT, size: FS }, padding: { top: 11.6, bottom: 4 } },
          },
        },
      },
    } as any);
    return () => chart.destroy();
  }, []);
  return (
    <div style={{ position: "absolute", left: 0, top: 0, width: 1000, height: 1000, background: "#fff" }}>
      <canvas ref={ref} width={1000} height={1000} style={{ display: "block" }} />
    </div>
  );
}
